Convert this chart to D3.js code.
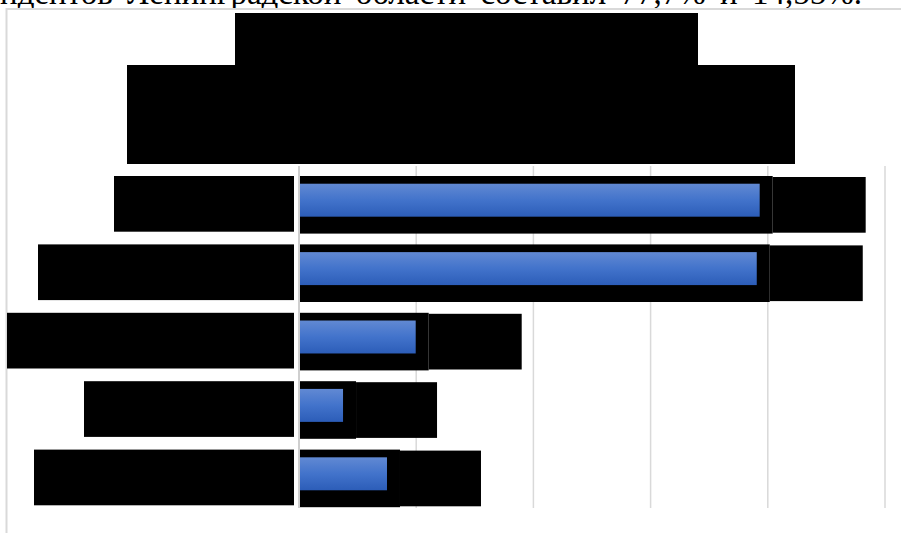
<!DOCTYPE html>
<html><head><meta charset="utf-8">
<script src="https://cdn.jsdelivr.net/npm/d3@7"></script>
<style>html,body{margin:0;padding:0;background:#fff;overflow:hidden}</style>
</head><body><svg id="c" width="901" height="533"></svg>
<script>
// ---- data ----
const categories = ["Категория 1", "Категория 2", "Категория 3", "Категория 4", "Категория 5"];
const values = [0.787, 0.782, 0.200, 0.076, 0.151];
const xTicks = [0, 0.2, 0.4, 0.6, 0.8, 1.0];
const introPrefix = "респо";
const introText = "респондентов Ленинградской области составил 77,7% и 14,55%.";
// redaction overlays present in the reference (hidden text)
const titleBoxes = [[235, 13, 463, 52], [127, 65, 668, 99]];
const categoryBoxWidths = [180, 256, 287, 210, 260];
const valueBoxWidths = [93, 93, 93, 81, 81];

// ---- drawing ----
const svg = d3.select("#c");
const fmt = v => d3.format(".1f")(v * 100).replace(".", ",") + "%";
const introFont = "33px";

const defs = svg.append("defs");
const grad = defs.append("linearGradient").attr("id", "barGrad")
  .attr("x1", 0).attr("y1", 0).attr("x2", 0).attr("y2", 1);
grad.append("stop").attr("offset", "0%").attr("stop-color", "#6189d3");
grad.append("stop").attr("offset", "50%").attr("stop-color", "#4273cb");
grad.append("stop").attr("offset", "100%").attr("stop-color", "#2c5db8");

// paragraph line (justified, cut off above)
const intro = svg.append("text").attr("x", 862).attr("y", 4)
  .attr("text-anchor", "end")
  .style("font-family", "'Liberation Serif','Times New Roman',serif")
  .style("font-size", introFont).attr("fill", "#000")
  .text(introText);
{
  const probe = svg.append("text")
    .style("font-family", "'Liberation Serif','Times New Roman',serif")
    .style("font-size", introFont).text(introPrefix);
  const pw = probe.node().getComputedTextLength();
  probe.remove();
  const fw = intro.node().getComputedTextLength();
  const spaces = introText.split(" ").length - 1;
  const ws = Math.max(0, (862 + pw - fw) / spaces);
  intro.style("word-spacing", ws + "px");
}

// chart border
svg.append("rect").attr("x", 6.5).attr("y", 9).attr("width", 1000).attr("height", 1000)
  .attr("fill", "#fff").attr("stroke", "#d9d9d9").attr("stroke-width", 2);

const x = d3.scaleLinear().domain([0, 1]).range([298.5, 884.5]);
const y = d3.scaleBand().domain(categories).range([166, 508])
  .paddingInner(0.518).paddingOuter(0.259);

// gridlines
const grid = svg.append("g").attr("transform", "translate(0,508)")
  .call(d3.axisBottom(x).tickValues(xTicks).tickSize(-342).tickFormat(""));
grid.select(".domain").remove();
grid.selectAll(".tick line").attr("stroke", "#d9d9d9").attr("stroke-width", 1.5);
grid.selectAll(".tick").filter(d => d === 0).select("line")
  .attr("stroke", "#cfcfcf").attr("stroke-width", 2);

// title redactions
svg.append("g").selectAll("rect").data(titleBoxes).join("rect")
  .attr("x", d => d[0]).attr("y", d => d[1]).attr("width", d => d[2]).attr("height", d => d[3])
  .attr("fill", "#000");

// category label redactions
svg.append("g").selectAll("rect").data(categories).join("rect")
  .attr("x", (d, i) => x(0) - 4.5 - categoryBoxWidths[i])
  .attr("y", d => y(d) + y.bandwidth() / 2 - 24.2)
  .attr("width", (d, i) => categoryBoxWidths[i])
  .attr("height", 55.7).attr("fill", "#000");

// value label redactions
const vb = svg.append("g");
vb.selectAll("rect.a").data(categories).join("rect").attr("class", "a")
  .attr("x", x(0) + 1.5)
  .attr("y", d => y(d) + y.bandwidth() / 2 - 24.2)
  .attr("width", (d, i) => x(values[i]) + 13 - x(0) - 1.5)
  .attr("height", 57.6).attr("fill", "#000");
vb.selectAll("rect.b").data(categories).join("rect").attr("class", "b")
  .attr("x", (d, i) => x(values[i]) + 13)
  .attr("y", d => y(d) + y.bandwidth() / 2 - 23.2)
  .attr("width", (d, i) => valueBoxWidths[i])
  .attr("height", 55.7).attr("fill", "#000");
vb.selectAll("text").data(categories).join("text")
  .attr("x", (d, i) => x(values[i]) + 20)
  .attr("y", d => y(d) + y.bandwidth() / 2 + 8)
  .style("font-family", "Calibri,Carlito,'Liberation Sans',sans-serif")
  .style("font-size", "22px").attr("fill", "#000")
  .text((d, i) => fmt(values[i]));

// bars
svg.append("g").selectAll("rect").data(categories).join("rect")
  .attr("x", x(0) + 1.5)
  .attr("y", d => y(d))
  .attr("width", (d, i) => x(values[i]) - x(0) - 1.5)
  .attr("height", y.bandwidth())
  .attr("fill", "url(#barGrad)");
</script></body></html>
